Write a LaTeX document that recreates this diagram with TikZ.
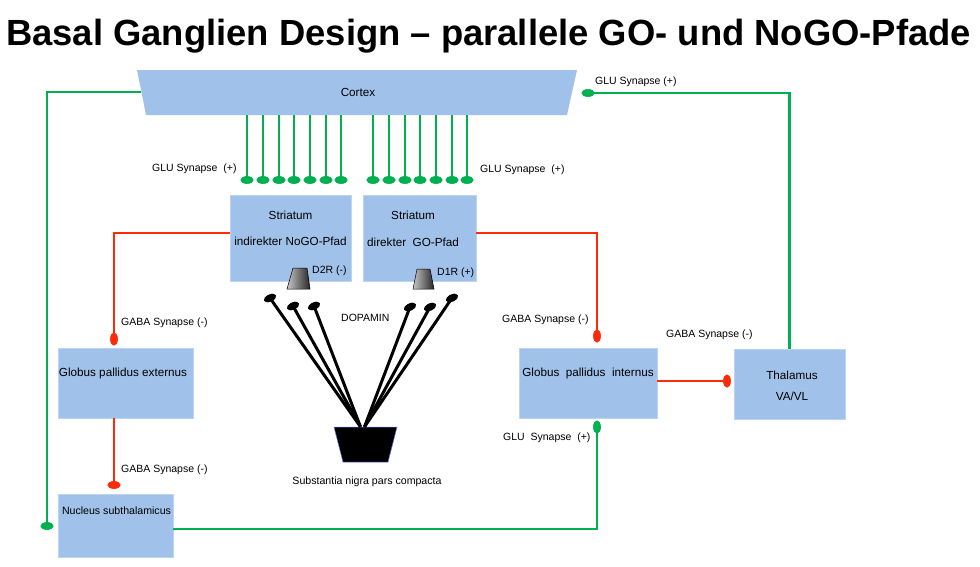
\documentclass[tikz,border=0pt]{standalone}
\usepackage{fontspec}
\setmainfont{Liberation Sans}
\usetikzlibrary{calc,shapes.geometric}
\definecolor{boxblue}{HTML}{A0C1E9}
\definecolor{glugreen}{HTML}{00B050}
\definecolor{gabared}{HTML}{FF2A0A}
\begin{document}
\begin{tikzpicture}[x=1pt,y=-1pt,
  box/.style={rectangle, fill=boxblue, draw=boxblue!70!white, line width=0.4pt, inner sep=0},
  txt/.style={inner sep=0, font=\fontsize{11.7}{14}\selectfont},
  lbl/.style={inner sep=0, font=\fontsize{10.5}{12}\selectfont, anchor=west},
  glu/.style={draw=glugreen, line width=2.9pt},
  gaba/.style={draw=gabared, line width=2.9pt},
  dop/.style={draw=black, line width=3pt},
  gdoth/.style={ellipse, fill=glugreen, minimum width=13pt, minimum height=7.5pt, inner sep=0},
  gdotv/.style={ellipse, fill=glugreen, minimum width=7.5pt, minimum height=13pt, inner sep=0},
  rdoth/.style={ellipse, fill=gabared, minimum width=13pt, minimum height=7.5pt, inner sep=0},
  rdotv/.style={ellipse, fill=gabared, minimum width=7.5pt, minimum height=13pt, inner sep=0},
  bdot/.style={ellipse, fill=black, minimum width=13pt, minimum height=7pt, inner sep=0, rotate=25},
  recep/.style={draw=black, line width=0.5pt, left color=gray!45, right color=black!85}
]
\useasboundingbox (0,0) rectangle (980,566);

% title
\node[anchor=base west, inner sep=0, font=\bfseries\fontsize{36.4}{40}\selectfont] (title) at (6,45) {Basal Ganglien Design – parallele GO- und NoGO-Pfade};

% cortex
\fill[boxblue] (137,70) -- (577,70) -- (567,115) -- (146,115) -- cycle;
\node[minimum width=421pt, minimum height=45pt, inner sep=0] (cortexbox) at (356.5,92.5) {};
\node[txt] (cortex) at (358,92) {Cortex};
\coordinate (cortexL) at (141,92);

% boxes
\node[box, minimum width=121pt, minimum height=86pt] (stl) at (290.5,238) {};
\node[box, minimum width=113pt, minimum height=86pt] (str) at (419.5,238) {};
\node[box, minimum width=135pt, minimum height=70pt] (gpe) at (125.5,383) {};
\node[box, minimum width=115pt, minimum height=63pt] (stn) at (115.5,525.5) {};
\node[box, minimum width=138pt, minimum height=70pt] (gpi) at (588,383) {};
\node[box, minimum width=111pt, minimum height=70pt] (thal) at (789.5,384) {};

\node[txt] (stlA) at (290.5,215) {Striatum};
\node[txt] (stlB) at (290.5,241) {indirekter NoGO-Pfad};
\node[txt] (strA) at (413,215) {Striatum};
\node[txt] (strB) at (413,242) {direkter\ \ GO-Pfad};
\node[txt] (gpeT) at (123,373) {Globus pallidus externus};
\node[txt, font=\fontsize{10.6}{12}\selectfont] (stnT) at (116.5,511) {Nucleus subthalamicus};
\node[txt] (gpiT) at (588,373) {Globus\ \ pallidus\ \ internus};
\node[txt] (thalA) at (792,375) {Thalamus};
\node[txt] (thalB) at (792,396) {VA/VL};

% cortex -> striatum glutamatergic fibres
\foreach \i/\x in {1/247,2/263,3/279,4/294,5/310,6/326,7/341,8/373,9/389,10/405,11/420,12/436,13/452,14/467}{
  \node[gdoth] (cd\i) at (\x,180) {};
  \draw[glu] (cortexbox.south -| cd\i) -- (cd\i.center);
  \node[gdoth] at (cd\i) {};
}
\node[lbl] (gluL) at (152,169) {GLU Synapse\ \ (+)};
\node[lbl] (gluR) at (480,170) {GLU Synapse\ \ (+)};

% receptors
\path[recep] (293,268) -- (307,268) -- (310,289) -- (287,289) -- cycle;
\coordinate (d2r) at (298.5,279);
\node[lbl] (d2rT) at (312,271) {D2R (-)};
\path[recep] (417,269) -- (430,269) -- (434,289) -- (413,289) -- cycle;
\coordinate (d1r) at (423.5,279);
\node[lbl] (d1rT) at (437,273) {D1R (+)};

% substantia nigra
\path[fill=black, draw=boxblue!60!blue, line width=0.5pt] (334,427) -- (397,427) -- (388,462) -- (343,462) -- cycle;
\node[minimum width=63pt, minimum height=35pt, inner sep=0] (sn) at (365.5,444.5) {};
\node[txt, font=\fontsize{10.6}{12}\selectfont] (snT) at (367,482) {Substantia nigra pars compacta};

% dopamine fibres
\node[bdot] (bd1) at (270,298) {};
\node[bdot] (bd2) at (293,306) {};
\node[bdot] (bd3) at (314,306) {};
\node[bdot] (bd4) at (410,307) {};
\node[bdot] (bd5) at (430,307) {};
\node[bdot] (bd6) at (452,298) {};
\foreach \b in {bd1,bd2,bd3}{\draw[dop] (\b.center) -- ([xshift=-5pt]sn.north);}
\foreach \b in {bd4,bd5,bd6}{\draw[dop] (\b.center) -- ([xshift=-1pt]sn.north);}
\foreach \b in {bd1,bd2,bd3,bd4,bd5,bd6}{\node[bdot] at (\b) {};}
\node[lbl] (dopT) at (341,318) {DOPAMIN};

% indirect path: striatum -> GPe
\node[rdotv] (rd1) at (114,339) {};
\draw[gaba] ([yshift=5pt]stl.west) -| (rd1.center);
\node[rdotv] at (rd1) {};
\node[lbl] (gaba1) at (121,323) {GABA Synapse (-)};

% GPe -> STN
\node[rdoth] (rd2) at (114,485) {};
\draw[gaba] (gpe.south -| rd2) -- (rd2.center);
\node[rdoth] at (rd2) {};
\node[lbl] (gaba2) at (121,470) {GABA Synapse (-)};

% cortex -> STN (hyperdirect)
\node[gdoth] (gd1) at (47,526) {};
\draw[glu] (cortexL) -| (gd1.center);
\node[gdoth] at (gd1) {};

% STN -> GPi
\node[gdotv] (gd2) at (597,427) {};
\draw[glu] ([yshift=-3.5pt]stn.east) -| (gd2.center);
\node[gdotv] at (gd2) {};
\node[lbl] (glu3) at (503,438) {GLU\ \ Synapse\ \ (+)};

% direct path: striatum -> GPi
\node[rdotv] (rd3) at (597,336) {};
\draw[gaba] ([yshift=5pt]str.east) -| (rd3.center);
\node[rdotv] at (rd3) {};
\node[lbl] (gaba3) at (502,320) {GABA Synapse (-)};

% GPi -> thalamus
\node[rdotv] (rd4) at (727,381) {};
\draw[gaba] ([yshift=2pt]gpi.east) -- (rd4.center);
\node[rdotv] at (rd4) {};
\node[lbl] (gaba4) at (666,335) {GABA Synapse (-)};

% thalamus -> cortex
\node[gdoth] (gd3) at (588,93) {};
\draw[glu] (thal.north) |- (gd3.center);
\node[gdoth] at (gd3) {};
\node[lbl] (glu4) at (595,82) {GLU Synapse (+)};
\end{tikzpicture}
\end{document}
